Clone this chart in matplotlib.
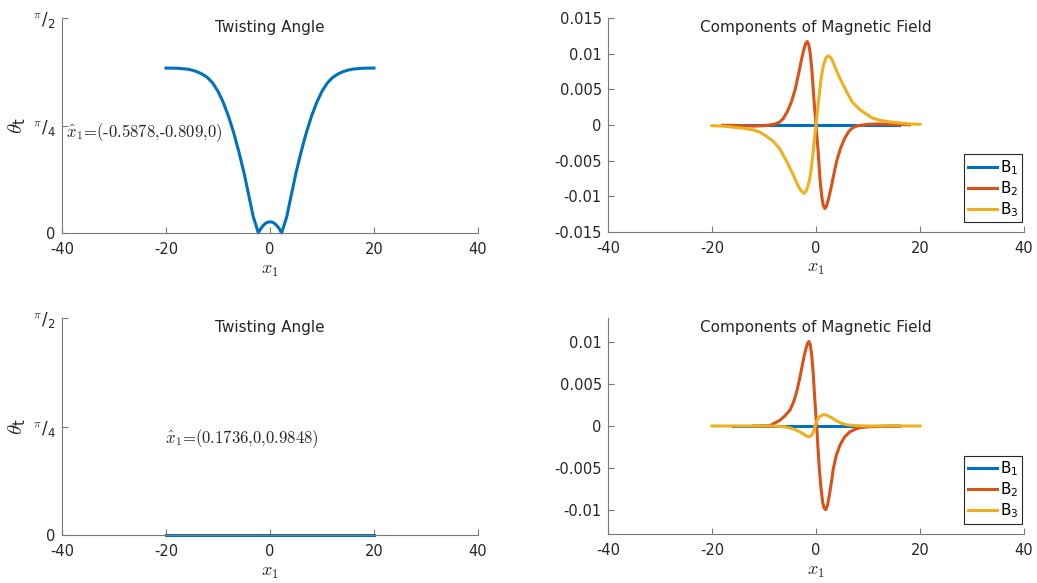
"""Twisting angle and magnetic field components for two orientations."""

import numpy as np
import matplotlib
matplotlib.use("Agg")
import matplotlib.pyplot as plt

plt.rcParams['font.family'] = ['DejaVu Sans']
plt.rcParams['mathtext.fontset'] = 'cm'

# ---- data ----
# twisting angle, top row
theta_x = [-20, -18, -16, -15, -14, -13, -12, -11, -10, -9, -8, -7, -6, -5, -4,
           -3.2, -2.6, -2.24, -1.8, -1.3, -0.8, -0.4, 0, 0.4, 0.8, 1.3, 1.8,
           2.24, 2.6, 3.2, 4, 5, 6, 7, 8, 9, 10, 11, 12, 13, 14, 15, 16, 18, 20]
theta_top = [1.205, 1.204, 1.198, 1.190, 1.178, 1.160, 1.135, 1.095, 1.035,
             0.955, 0.855, 0.735, 0.595, 0.44, 0.26, 0.116, 0.045, 0.0, 0.03,
             0.055, 0.072, 0.079, 0.082, 0.079, 0.072, 0.055, 0.03, 0.0,
             0.045, 0.116, 0.26, 0.44, 0.595, 0.735, 0.855, 0.955, 1.035,
             1.095, 1.135, 1.160, 1.178, 1.190, 1.198, 1.204, 1.205]
# twisting angle, bottom row (flat at zero)
theta_bot_x = [-20, 20]
theta_bot = [0.0, 0.0]

# magnetic field, top row
b1_top_x = [-16, 16]
b1_top = [0.0, 0.0]

b2_top_x = [-18, -16, -14, -12, -10, -9, -8, -7, -6.3, -5.5, -4.7, -4, -3.4,
            -2.9, -2.4, -2, -1.7, -1.4, -1.1, -0.8, -0.4, 0, 0.4, 0.8, 1.1,
            1.4, 1.7, 2, 2.4, 2.9, 3.4, 4, 4.7, 5.5, 6.3, 7, 8, 9, 10, 12, 14,
            16, 18]
b2_top = [-0.00003, -0.00006, -0.0001, -0.00015, -0.0001, 0.0, 0.0001, 0.0004,
          0.0009, 0.0019, 0.0033, 0.0050, 0.0070, 0.0088, 0.0104, 0.0114,
          0.0117, 0.0113, 0.0100, 0.0078, 0.0036, 0.0, -0.0036, -0.0078,
          -0.0100, -0.0113, -0.0117, -0.0114, -0.0104, -0.0088, -0.0070,
          -0.0050, -0.0033, -0.0019, -0.0009, -0.0004, -0.0001, 0.0, 0.0001,
          0.00015, 0.0001, 0.00006, 0.00003]

b3_top_x = [-20, -18, -16, -14, -12, -10.8, -9.5, -8.2, -7, -6.3, -5.5, -4.7,
            -4, -3.4, -2.8, -2.25, -1.8, -1.3, -1, -0.6, -0.3, 0, 0.3, 0.6, 1,
            1.4, 1.9, 2.37, 2.9, 3.4, 4, 4.7, 5.5, 6.3, 7, 8.2, 9.5, 10.8, 12,
            14, 16, 18, 20]
b3_top = [-0.0001, -0.00015, -0.0003, -0.00045, -0.0007, -0.001, -0.0016,
          -0.0023, -0.0033, -0.0042, -0.0053, -0.0065, -0.0076, -0.0086,
          -0.0093, -0.0096, -0.0091, -0.0079, -0.0066, -0.0041, -0.0020, 0.0,
          0.0020, 0.0041, 0.0066, 0.0083, 0.0094, 0.0097, 0.0094, 0.0086,
          0.0075, 0.0064, 0.0052, 0.0041, 0.0032, 0.0023, 0.0016, 0.0010,
          0.0007, 0.00045, 0.0003, 0.00015, 0.0001]

# magnetic field, bottom row
b1_bot_x = [-16, 16]
b1_bot = [0.0, 0.0]

b2_bot_x = [-12, -10, -8.85, -6.9, -6, -5, -4.3, -3.7, -3.2, -2.75, -2.3,
            -1.92, -1.6, -1.35, -1.1, -0.83, -0.55, -0.32, -0.1, 0.13, 0.4,
            0.64, 0.95, 1.28, 1.55, 1.86, 2.2, 2.56, 2.95, 3.33, 3.9, 4.6, 5.5,
            6.5, 7.5, 8.46, 10, 12, 14, 16]
b2_bot = [0.0, 0.00003, 0.00005, 0.0007, 0.0012, 0.0019, 0.0029, 0.0041,
          0.0055, 0.0069, 0.0083, 0.0093, 0.0099, 0.0101, 0.0097, 0.0085,
          0.0064, 0.0041, 0.0020, 0.0, -0.0028, -0.0051, -0.0074, -0.0091,
          -0.0098, -0.0100, -0.0095, -0.0083, -0.0068, -0.0051, -0.0035,
          -0.0023, -0.0013, -0.0007, -0.0004, -0.0002, -0.0001, -0.00005,
          0.0, 0.0]

b3_bot_x = [-20, -12, -8.85, -7, -6, -5, -4, -3.08, -2.3, -1.8, -1.47, -1.1,
            -0.83, -0.5, -0.19, 0.1, 0.45, 0.9, 1.41, 2, 2.7, 3.5, 4.6, 5.5,
            6.5, 8, 10, 14, 20]
b3_bot = [0.0, 0.0, 0.0, -0.00005, -0.0001, -0.00024, -0.00045, -0.0007,
          -0.001, -0.0012, -0.0013, -0.0012, -0.0011, -0.0007, 0.0, 0.0005,
          0.00096, 0.0012, 0.00136, 0.0013, 0.0011, 0.0008, 0.0004, 0.0002,
          0.0001, 0.00003, 0.0, 0.0, 0.0]

note_top = r'$\hat{x}_1$=(-0.5878,-0.809,0)'
note_bot = r'$\hat{x}_1$=(0.1736,0,0.9848)'

colors = ['#0072BD', '#D95319', '#EDB120']
axis_gray = '#7a7a7a'
text_dark = '#262626'

fig = plt.figure(figsize=(10.37, 5.83), dpi=100)
W, H = 1037.0, 583.0


def make_axes(left, top, right, bottom):
    return fig.add_axes([left / W, 1 - bottom / H, (right - left) / W, (bottom - top) / H])


ax_tl = make_axes(62, 18, 478, 233)
ax_tr = make_axes(608, 18, 1024, 232)
ax_bl = make_axes(62, 318, 478, 535)
ax_br = make_axes(608, 318, 1024, 534)


def style(ax):
    for side in ['top', 'right']:
        ax.spines[side].set_visible(False)
    for side in ['left', 'bottom']:
        ax.spines[side].set_color(axis_gray)
        ax.spines[side].set_linewidth(0.8)
    ax.tick_params(direction='in', length=4, width=0.8, color=axis_gray,
                   labelcolor=text_dark, labelsize=10.5)
    ax.tick_params(axis='x', pad=6.5)
    ax.tick_params(axis='y', pad=4.5)
    ax.set_xlim(-40, 40)
    ax.set_xticks([-40, -20, 0, 20, 40])
    ax.set_xticklabels(['-40', '-20', '0', '20', '40'])
    ax.set_xlabel(r'$x_1$', fontsize=13, color=text_dark, va='top')
    ax.xaxis.set_label_coords(0.5, -0.128)


# ---- twisting angle panels ----
for ax, tx, theta, note, note_xy in [
        (ax_tl, theta_x, theta_top, note_top, (-39.3, 0.73)),
        (ax_bl, theta_bot_x, theta_bot, note_bot, (-20.1, 0.70))]:
    style(ax)
    ax.plot(tx, theta, color=colors[0], lw=2.2, clip_on=False)
    ax.set_ylim(0, np.pi / 2)
    ax.set_yticks([0, np.pi / 4, np.pi / 2])
    ax.set_yticklabels(['0', r'${}^{\pi}\mathregular{/_4}$', r'${}^{\pi}\mathregular{/_2}$'])
    for lbl in ax.get_yticklabels()[1:]:
        lbl.set_fontsize(12)
    ax.set_ylabel(r'$\theta_{\mathregular{t}}$', fontsize=15, color=text_dark)
    ax.yaxis.set_label_coords(-0.082, 0.5)
    ax.text(0.5, 0.99, 'Twisting Angle', transform=ax.transAxes, ha='center',
            va='top', fontsize=11, color=text_dark)
    ax.text(note_xy[0], note_xy[1], note, fontsize=12, family='cmr10',
            ha='left', va='center', color=text_dark)

# ---- magnetic field panels ----
for ax, series, ylim, yt in [
        (ax_tr, [(b1_top_x, b1_top), (b2_top_x, b2_top), (b3_top_x, b3_top)],
         (-0.015, 0.015), [-0.015, -0.01, -0.005, 0, 0.005, 0.01, 0.015]),
        (ax_br, [(b1_bot_x, b1_bot), (b2_bot_x, b2_bot), (b3_bot_x, b3_bot)],
         (-0.0129, 0.0129), [-0.01, -0.005, 0, 0.005, 0.01])]:
    style(ax)
    for i, (xs, ys) in enumerate(series):
        ax.plot(xs, ys, color=colors[i], lw=2.2,
                label=r'$\mathregular{B_%d}$' % (i + 1))
    ax.set_ylim(*ylim)
    ax.set_yticks(yt)
    ax.set_yticklabels(['%g' % v if v != 0 else '0' for v in yt])
    ax.text(0.5, 0.99, 'Components of Magnetic Field', transform=ax.transAxes,
            ha='center', va='top', fontsize=11, color=text_dark)
    leg = ax.legend(loc='lower right', bbox_to_anchor=(0.995, 0.045),
                    fontsize=11, handlelength=1.9, handletextpad=0.2,
                    labelspacing=0.15, borderpad=0.25, borderaxespad=0.0,
                    fancybox=False, framealpha=1)
    leg.get_frame().set_edgecolor(text_dark)
    leg.get_frame().set_linewidth(0.8)

fig.savefig('out.png', dpi=100)
